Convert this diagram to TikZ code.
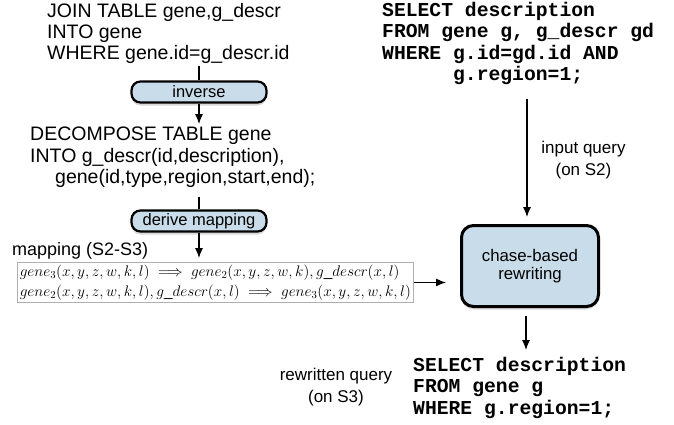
\RequirePackage{fix-cm}
\documentclass[tikz,border=0pt]{standalone}
\usepackage{fontspec}
\setmainfont{Liberation Sans}
\setmonofont{Liberation Mono}
\usetikzlibrary{arrows.meta,shadows}
\definecolor{boxblue}{RGB}{200,221,233}
\definecolor{mapgray}{RGB}{175,175,175}
\newcommand{\impl}{\mathrel{\;\Longrightarrow\;}}
\begin{document}
\begin{tikzpicture}[x=1pt,y=-1pt,
  plain/.style={inner sep=0pt, align=left, font=\fontsize{19.5}{21.3}\selectfont},
  sql/.style={inner sep=0pt, align=left, font=\fontsize{19.7}{21.3}\selectfont\ttfamily\bfseries},
  lbl/.style={inner sep=0pt, align=center, font=\fontsize{17}{21.5}\selectfont},
  opbox/.style={draw, line width=2.2pt, rounded corners=9pt, fill=boxblue,
    drop shadow={opacity=0.3, shadow xshift=0pt, shadow yshift=-3pt},
    minimum width=135pt, minimum height=21pt, inner sep=0pt,
    font=\fontsize{16.5}{20}\selectfont},
  arr/.style={-{Latex[length=10pt,width=8pt]}, line width=1.1pt},
  ln/.style={line width=1.1pt}]
\useasboundingbox (0,0) rectangle (674,424);

% left column
\node[plain, anchor=north west] (join) at (47,3)
  {JOIN TABLE gene,g\_descr\\INTO gene\\WHERE gene.id=g\_descr.id};
\node[opbox] (inv) at (199,92) {inverse};
\node[plain, anchor=north west] (dec) at (30,127)
  {DECOMPOSE TABLE gene\\INTO g\_descr(id,description),\\\hspace*{25pt}gene(id,type,region,start,end);};
\node[opbox] (der) at (199,221) {derive mapping};
\node[inner sep=0pt, anchor=base west, font=\fontsize{18}{20}\selectfont] (maplbl) at (12,255) {mapping (S2-S3)};
\node[draw=mapgray, line width=0.6pt, inner sep=2.5pt, anchor=north west, align=left,
  font=\fontsize{15.3}{20}\selectfont] (map) at (17,262)
  {$gene_3(x,y,z,w,k,l) \impl gene_2(x,y,z,w,k), g\_descr(x,l)$\\
   $gene_2(x,y,z,w,k,l), g\_descr(x,l) \impl gene_3(x,y,z,w,k,l)$};

\draw[ln, shorten <=2pt] (join.south -| inv.north) -- (inv.north);
\draw[arr, shorten >=3pt] (inv.south) -- (inv.south |- dec.north);
\draw[ln, shorten <=9pt] (dec.south -| der.north) -- (der.north);
\draw[arr, shorten >=4pt] (der.south) -- (der.south |- map.north);

% right column
\node[sql, anchor=north west] (q1) at (382,2)
  {SELECT description\\FROM gene g, g\_descr gd\\WHERE g.id=gd.id AND\\\hphantom{WHERE }g.region=1;};
\node[opbox, minimum width=137pt, minimum height=81pt, rounded corners=12pt,
  line width=3pt, align=center, font=\fontsize{16.8}{18}\selectfont] (chase) at (530,266)
  {chase-based\\rewriting};
\node[lbl] (inlbl) at (583.5,160) {input query\\(on S2)};
\node[sql, anchor=north west] (q2) at (413,357)
  {SELECT description\\FROM gene g\\WHERE g.region=1;};
\node[lbl] (outlbl) at (336,387) {rewritten query\\(on S3)};

\draw[arr, shorten <=14pt, shorten >=7pt] ([xshift=-3pt]q1.south -| chase.north) -- ([xshift=-3pt]chase.north);
\draw[arr, shorten >=14pt] (map.east) -- (map.east -| chase.west);
\draw[arr, shorten <=8pt, shorten >=7pt] ([xshift=-4pt]chase.south) -- ([xshift=-4pt]chase.south |- q2.north);
\end{tikzpicture}
\end{document}
